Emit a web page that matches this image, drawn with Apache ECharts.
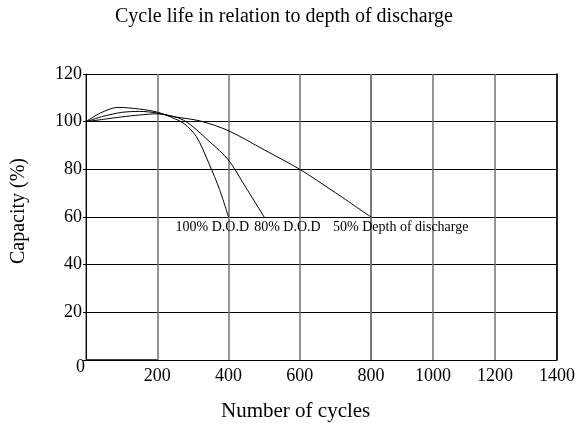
<!DOCTYPE html>
<html>
<head>
<meta charset="utf-8">
<script src="https://cdn.jsdelivr.net/npm/echarts@6/dist/echarts.min.js"></script>
<style>html,body{margin:0;padding:0;background:#fff;}#c{width:584px;height:428px;}</style>
</head>
<body>
<div id="c"></div>
<script>
// ---- data ----
var xTicksLeft = [0, 200, 400, 600, 800];
var xTicksRight = [1000, 1200, 1400];
var yTicks = [0, 20, 40, 60, 80, 100, 120];
var dod100 = [[0,100],[40,103.6],[90,106],[150,105.3],[200,104],[240,101.8],[275,99.2],[310,93.7],[345,82.5],[375,71.5],[400,60]];
var dod80  = [[0,100],[50,102.3],[100,103.9],[150,104.3],[200,103.6],[273,100.7],[347,91.6],[400,83.9],[440,74.5],[500,60]];
var dod50  = [[0,100],[50,101],[100,102],[150,102.8],[200,103.3],[250,102],[320,100.3],[400,96.2],[500,88.2],[600,80],[700,70.2],[800,60]];
var labels = ['100% D.O.D', '80% D.O.D', '50% Depth of discharge'];
var baseSegment = [0, 200];

var FONT = "'Liberation Serif','Times New Roman',serif";
var chart = echarts.init(document.getElementById('c'), null, {renderer:'canvas'});

function curve(name, data, lab, off) {
  var last = data[data.length - 1];
  return {
    name: name, type: 'line', xAxisIndex: 0, yAxisIndex: 0,
    data: data, smooth: 0.3, symbol: 'none', silent: true,
    lineStyle: {color: '#000', width: 1},
    markPoint: {
      symbol: 'circle', symbolSize: 0, silent: true,
      data: [{coord: last}],
      label: {show: true, formatter: lab, position: off, align: 'left', verticalAlign: 'middle',
              color: '#000', fontFamily: FONT, fontSize: 14}
    }
  };
}

var s50 = curve('50%', dod50, labels[2], [-38, 10]);
s50.markLine = {
  symbol: 'none', silent: true, label: {show: false},
  lineStyle: {color: '#000', type: 'solid', width: 1.5},
  data: [[{coord: [baseSegment[0], 0]}, {coord: [baseSegment[1], 0]}]]
};

var axisLabelStyle = {color: '#000', fontFamily: FONT, fontSize: 18};

chart.setOption({
  animation: false,
  title: [
    {text: 'Cycle life in relation to depth of discharge', left: 110, top: 2,
     textStyle: {fontFamily: FONT, fontSize: 20, fontWeight: 'normal', color: '#000'}},
    {text: 'Number of cycles', left: 216, top: 396,
     textStyle: {fontFamily: FONT, fontSize: 21, fontWeight: 'normal', color: '#000'}}
  ],
  graphic: [
    {type: 'text', left: 76, top: 358, style: {text: '0', font: '18px ' + FONT, fill: '#000'}}
  ],
  grid: [
    {left: 86, right: 213, top: 74, bottom: 68},
    {left: 371, right: 27, top: 74, bottom: 68}
  ],
  xAxis: [
    {type: 'value', gridIndex: 0, min: xTicksLeft[0], max: xTicksLeft[xTicksLeft.length-1], interval: 200,
     axisLine: {show: false}, axisTick: {show: false},
     axisLabel: Object.assign({margin: 7, formatter: function(v){ return v === 0 ? '' : String(v); }}, axisLabelStyle),
     splitLine: {show: true, lineStyle: {color: '#707070', width: 1.5}}},
    {type: 'value', gridIndex: 1, min: 800, max: xTicksRight[xTicksRight.length-1], interval: 200,
     axisLine: {show: false}, axisTick: {show: false},
     axisLabel: Object.assign({margin: 7, formatter: function(v){ return xTicksRight.indexOf(v) >= 0 ? String(v) : ''; }}, axisLabelStyle),
     splitLine: {show: true, lineStyle: {color: '#707070', width: 1.5}}}
  ],
  yAxis: [
    {type: 'value', gridIndex: 0, min: yTicks[0], max: yTicks[yTicks.length-1], interval: 20,
     name: 'Capacity (%)', nameLocation: 'middle', nameRotate: 90, nameGap: 57,
     nameTextStyle: {fontFamily: FONT, fontSize: 20, color: '#000', padding: [0, 0, 0, 12]},
     axisLine: {show: true, lineStyle: {color: '#000', width: 1}},
     axisTick: {show: true, length: 3, lineStyle: {color: '#000'}},
     axisLabel: Object.assign({margin: 4, formatter: function(v){ return v === 0 ? '' : String(v); }}, axisLabelStyle),
     splitLine: {show: true, lineStyle: {color: '#000', width: 1}}},
    {type: 'value', gridIndex: 1, min: 0, max: 120, interval: 20, position: 'right',
     axisLine: {show: true, lineStyle: {color: '#000', width: 1.5}},
     axisTick: {show: false}, axisLabel: {show: false},
     splitLine: {show: true, lineStyle: {color: '#000', width: 1}}}
  ],
  series: [
    curve('100%', dod100, labels[0], [-53, 10]),
    curve('80%', dod80, labels[1], [-10, 10]),
    s50
  ]
});
</script>
</body>
</html>
